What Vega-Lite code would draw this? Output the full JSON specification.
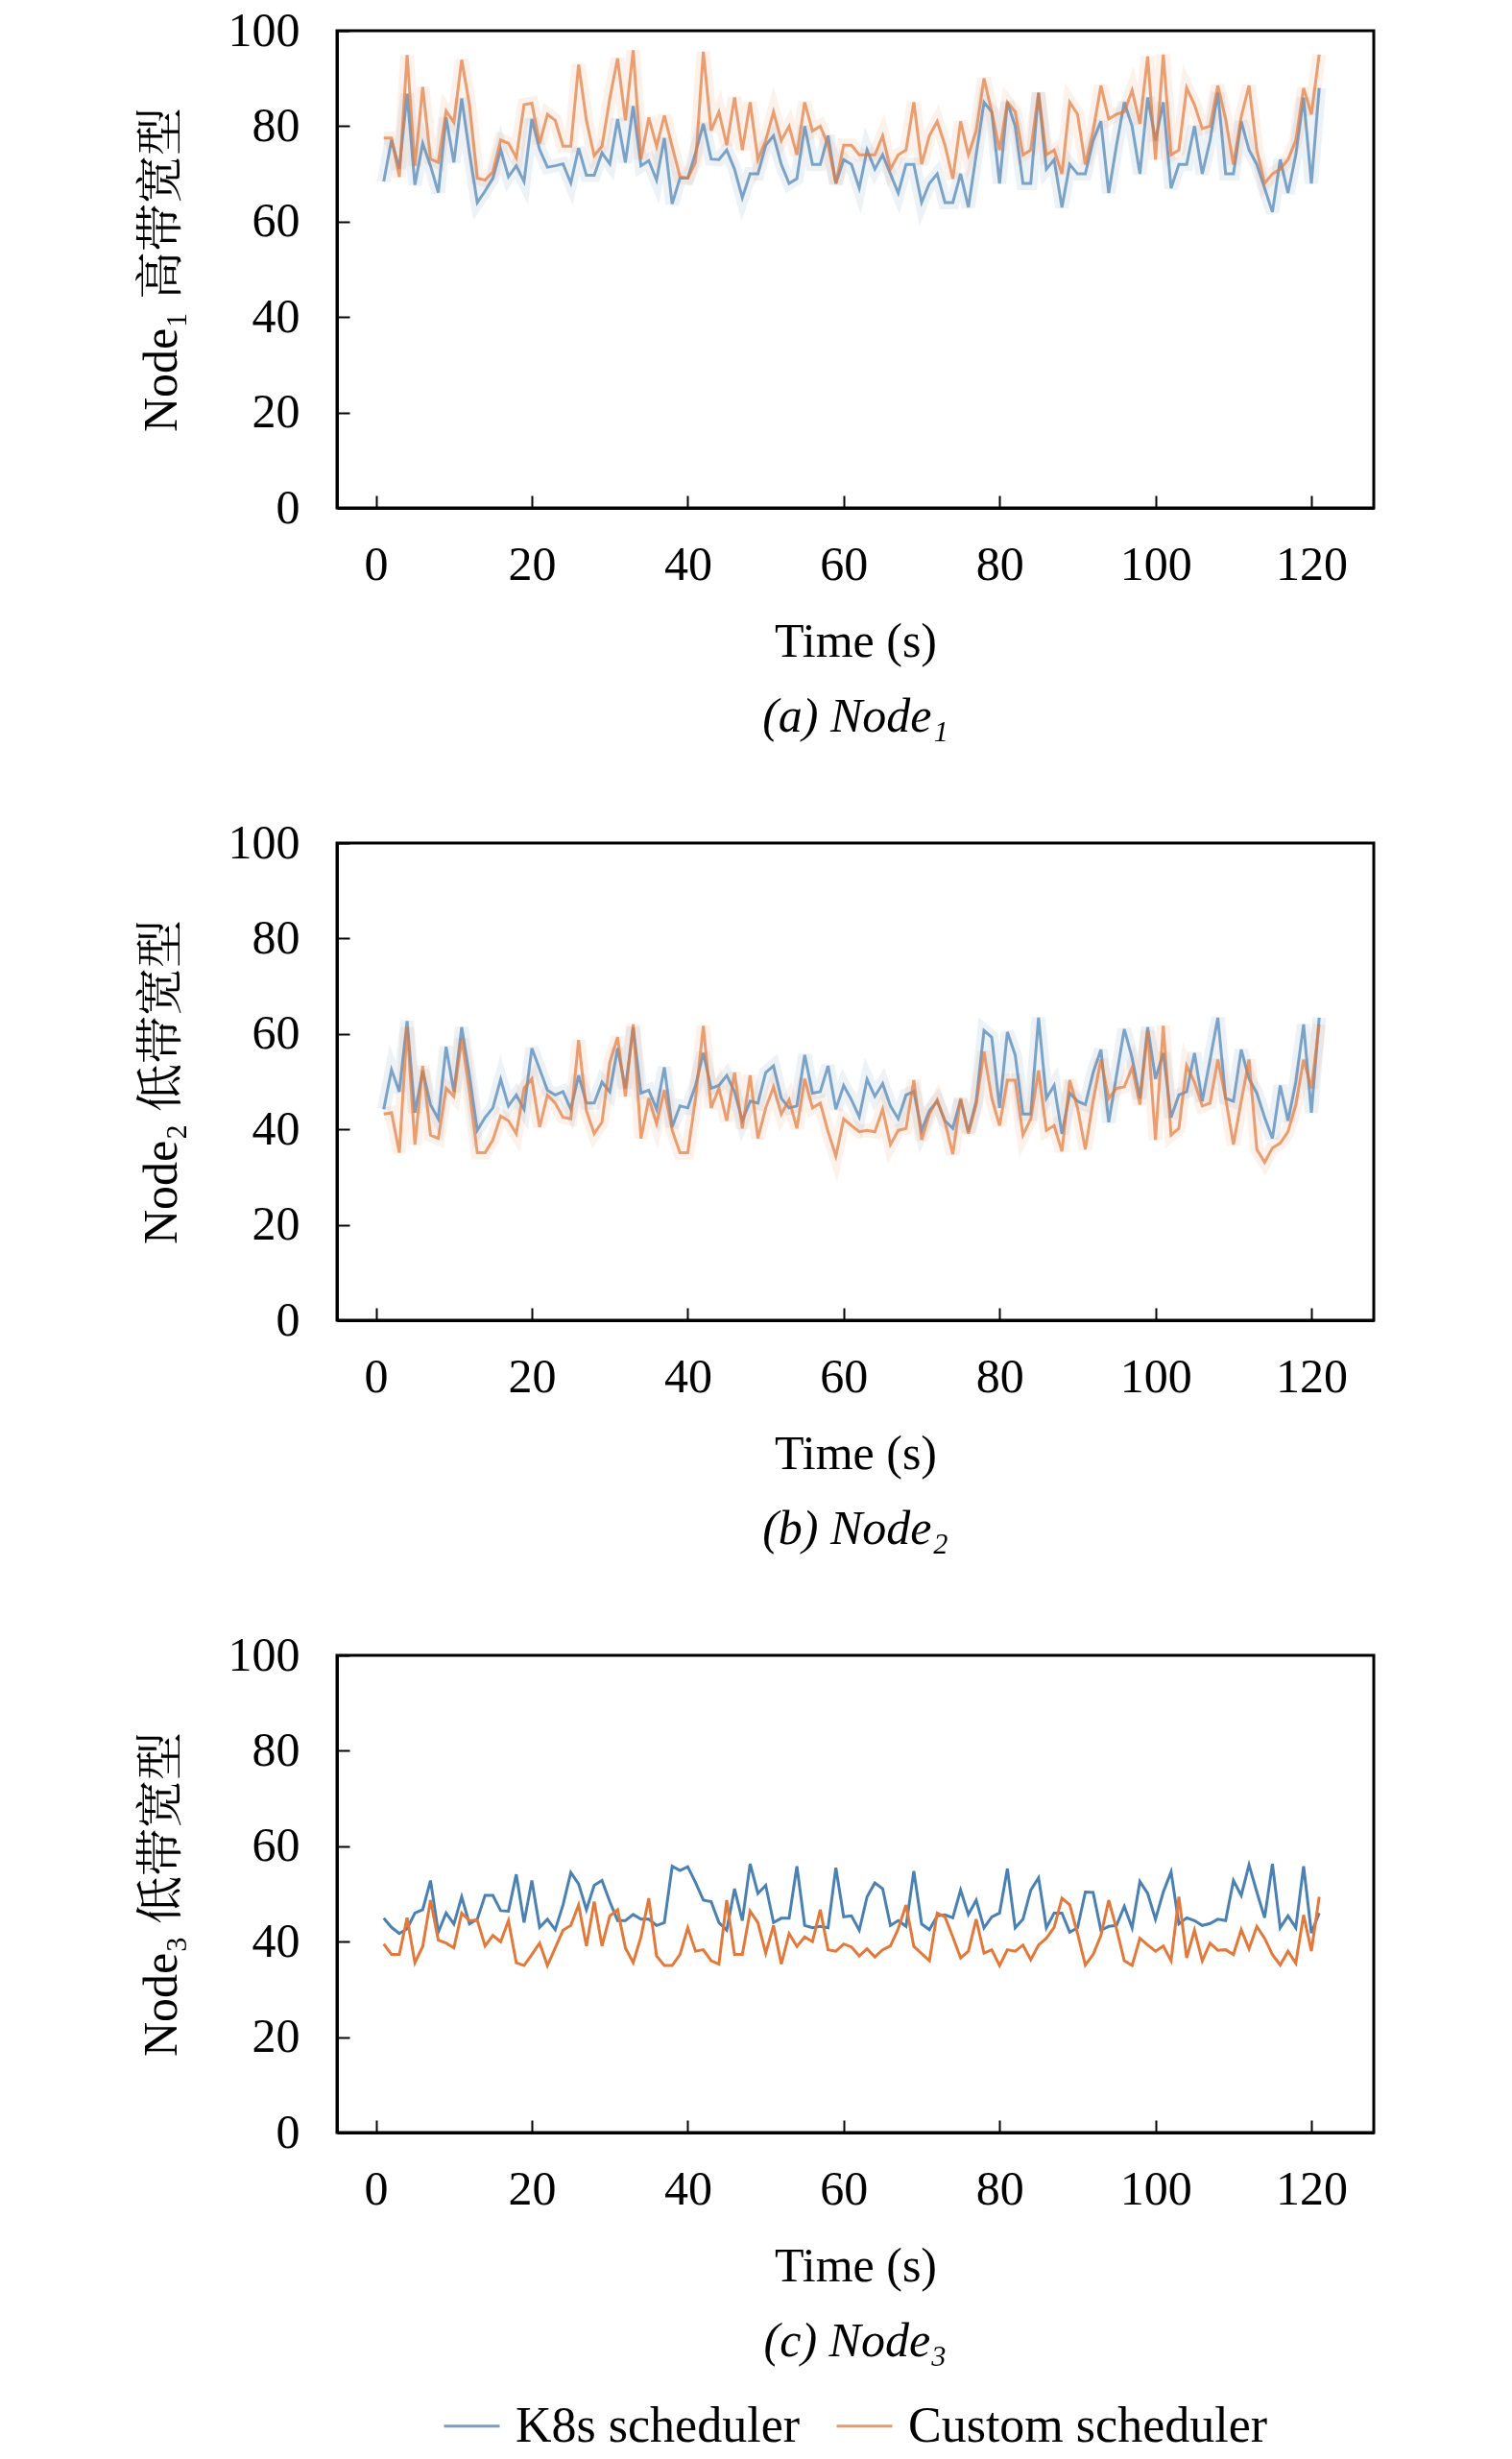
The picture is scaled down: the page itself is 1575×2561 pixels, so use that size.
{
  "$schema": "https://vega.github.io/schema/vega-lite/v6.json",
  "padding": {"left": 141, "top": 5, "right": 20, "bottom": 5},
  "background": "white",
  "spacing": 349,
  "bounds": "flush",
  "datasets": {
    "n1": [
      {"t":1,"k8s":68.4,"custom":77.5},{"t":2,"k8s":77.1,"custom":77.5},{"t":3,"k8s":71.1,"custom":69.4},{"t":4,"k8s":86.8,"custom":94.9},{"t":5,"k8s":67.7,"custom":71.7},
      {"t":6,"k8s":76.4,"custom":88.2},{"t":7,"k8s":71.7,"custom":73.1},{"t":8,"k8s":66.1,"custom":72.4},{"t":9,"k8s":81.8,"custom":83.2},{"t":10,"k8s":72.4,"custom":80.8},
      {"t":11,"k8s":85.8,"custom":93.9},{"t":12,"k8s":74.4,"custom":84.5},{"t":13,"k8s":64.0,"custom":69.1},{"t":14,"k8s":66.4,"custom":68.7},{"t":15,"k8s":69.1,"custom":70.4},
      {"t":16,"k8s":75.1,"custom":77.1},{"t":17,"k8s":69.4,"custom":76.4},{"t":18,"k8s":71.7,"custom":73.4},{"t":19,"k8s":68.4,"custom":84.5},{"t":20,"k8s":81.5,"custom":84.8},
      {"t":21,"k8s":75.1,"custom":76.4},{"t":22,"k8s":71.4,"custom":82.5},{"t":23,"k8s":71.7,"custom":81.2},{"t":24,"k8s":72.1,"custom":75.8},{"t":25,"k8s":68.1,"custom":75.8},
      {"t":26,"k8s":75.4,"custom":92.9},{"t":27,"k8s":69.7,"custom":81.2},{"t":28,"k8s":69.7,"custom":73.8},{"t":29,"k8s":74.4,"custom":75.8},{"t":30,"k8s":72.1,"custom":85.8},
      {"t":31,"k8s":81.5,"custom":94.2},{"t":32,"k8s":72.4,"custom":81.2},{"t":33,"k8s":84.2,"custom":95.9},{"t":34,"k8s":71.7,"custom":73.1},{"t":35,"k8s":72.8,"custom":81.8},
      {"t":36,"k8s":68.7,"custom":75.8},{"t":37,"k8s":77.5,"custom":82.2},{"t":38,"k8s":63.7,"custom":75.8},{"t":39,"k8s":69.1,"custom":69.4},{"t":40,"k8s":69.1,"custom":69.1},
      {"t":41,"k8s":74.4,"custom":72.4},{"t":42,"k8s":80.5,"custom":95.6},{"t":43,"k8s":73.1,"custom":79.1},{"t":44,"k8s":73,"custom":83},{"t":45,"k8s":75,"custom":76},
      {"t":46,"k8s":71,"custom":86},{"t":47,"k8s":65,"custom":75},{"t":48,"k8s":70,"custom":85},{"t":49,"k8s":70,"custom":73},{"t":50,"k8s":76,"custom":77},
      {"t":51,"k8s":78,"custom":83},{"t":52,"k8s":72,"custom":77},{"t":53,"k8s":68,"custom":80},{"t":54,"k8s":69,"custom":74},{"t":55,"k8s":80,"custom":85},
      {"t":56,"k8s":72,"custom":79},{"t":57,"k8s":72,"custom":80},{"t":58,"k8s":78,"custom":76},{"t":59,"k8s":68,"custom":68},{"t":60,"k8s":73,"custom":76},
      {"t":61,"k8s":72,"custom":76},{"t":62,"k8s":67,"custom":74},{"t":63,"k8s":75,"custom":74},{"t":64,"k8s":71,"custom":74},{"t":65,"k8s":74,"custom":78},
      {"t":66,"k8s":70,"custom":71},{"t":67,"k8s":66,"custom":74},{"t":68,"k8s":72,"custom":75},{"t":69,"k8s":72,"custom":85},{"t":70,"k8s":64,"custom":72},
      {"t":71,"k8s":68,"custom":78},{"t":72,"k8s":70,"custom":81},{"t":73,"k8s":64,"custom":76},{"t":74,"k8s":64,"custom":69},{"t":75,"k8s":70,"custom":81},
      {"t":76,"k8s":63,"custom":74},{"t":77,"k8s":74,"custom":79},{"t":78,"k8s":85,"custom":90},{"t":79,"k8s":83,"custom":83},{"t":80,"k8s":68,"custom":75},
      {"t":81,"k8s":85,"custom":85},{"t":82,"k8s":80,"custom":83},{"t":83,"k8s":68,"custom":74},{"t":84,"k8s":68,"custom":75},{"t":85,"k8s":87,"custom":87},
      {"t":86,"k8s":71,"custom":74},{"t":87,"k8s":73,"custom":75},{"t":88,"k8s":63,"custom":70},{"t":89,"k8s":72,"custom":85},{"t":90,"k8s":70,"custom":82.5},
      {"t":91,"k8s":70,"custom":72},{"t":92,"k8s":77,"custom":79},{"t":93,"k8s":81,"custom":88.5},{"t":94,"k8s":66,"custom":81.5},{"t":95,"k8s":76,"custom":82.5},
      {"t":96,"k8s":85,"custom":83},{"t":97,"k8s":80,"custom":87.5},{"t":98,"k8s":70,"custom":80.5},{"t":99,"k8s":86,"custom":94.6},{"t":100,"k8s":77,"custom":73},
      {"t":101,"k8s":85,"custom":95},{"t":102,"k8s":67,"custom":74},{"t":103,"k8s":72,"custom":75},{"t":104,"k8s":72,"custom":88},{"t":105,"k8s":80,"custom":84.5},
      {"t":106,"k8s":70,"custom":79.5},{"t":107,"k8s":77,"custom":80},{"t":108,"k8s":87,"custom":88.5},{"t":109,"k8s":70,"custom":81.5},{"t":110,"k8s":70,"custom":72},
      {"t":111,"k8s":81,"custom":82},{"t":112,"k8s":75,"custom":88.5},{"t":113,"k8s":72,"custom":75},{"t":114,"k8s":67,"custom":68},{"t":115,"k8s":62,"custom":70},
      {"t":116,"k8s":73,"custom":71},{"t":117,"k8s":66,"custom":73},{"t":118,"k8s":74,"custom":77},{"t":119,"k8s":86,"custom":88},{"t":120,"k8s":68,"custom":82.5},
      {"t":121,"k8s":88,"custom":95}
    ],
    "n2": [
      {"t":1,"k8s":44.2,"custom":43.2},{"t":2,"k8s":52.5,"custom":43.5},{"t":3,"k8s":47.9,"custom":35.1},{"t":4,"k8s":62.7,"custom":61.4},{"t":5,"k8s":43.5,"custom":36.8},
      {"t":6,"k8s":52.3,"custom":53.3},{"t":7,"k8s":45.2,"custom":38.8},{"t":8,"k8s":42.2,"custom":38.1},{"t":9,"k8s":57.3,"custom":48.6},{"t":10,"k8s":47.9,"custom":46.9},
      {"t":11,"k8s":61.4,"custom":59.0},{"t":12,"k8s":51.3,"custom":47.9},{"t":13,"k8s":39.8,"custom":35.1},{"t":14,"k8s":42.5,"custom":35.1},{"t":15,"k8s":44.5,"custom":37.8},
      {"t":16,"k8s":50.5,"custom":42.8},{"t":17,"k8s":44.9,"custom":41.8},{"t":18,"k8s":47.2,"custom":39.1},{"t":19,"k8s":44.2,"custom":48.6},{"t":20,"k8s":57.0,"custom":50.6},
      {"t":21,"k8s":52.6,"custom":40.5},{"t":22,"k8s":48.2,"custom":47.2},{"t":23,"k8s":47.2,"custom":45.5},{"t":24,"k8s":47.9,"custom":42.5},{"t":25,"k8s":44.2,"custom":42.2},
      {"t":26,"k8s":51.3,"custom":58.7},{"t":27,"k8s":45.5,"custom":43.9},{"t":28,"k8s":45.5,"custom":39.1},{"t":29,"k8s":49.9,"custom":41.5},{"t":30,"k8s":47.9,"custom":54.0},
      {"t":31,"k8s":57.0,"custom":59.3},{"t":32,"k8s":48.6,"custom":46.9},{"t":33,"k8s":61.4,"custom":62.0},{"t":34,"k8s":47.6,"custom":38.1},{"t":35,"k8s":48.2,"custom":46.5},
      {"t":36,"k8s":44.2,"custom":41.2},{"t":37,"k8s":53.0,"custom":48.2},{"t":38,"k8s":40.5,"custom":39.8},{"t":39,"k8s":44.9,"custom":35.1},{"t":40,"k8s":44.5,"custom":35.1},
      {"t":41,"k8s":49.2,"custom":46.5},{"t":42,"k8s":56.0,"custom":61.7},{"t":43,"k8s":48.6,"custom":44.5},{"t":44,"k8s":49.2,"custom":48.6},{"t":45,"k8s":51.3,"custom":41.8},
      {"t":46,"k8s":47.9,"custom":51.9},{"t":47,"k8s":41.8,"custom":40.2},{"t":48,"k8s":45.9,"custom":51.3},{"t":49,"k8s":45.5,"custom":38.1},{"t":50,"k8s":51.9,"custom":44.5},
      {"t":51,"k8s":53.3,"custom":48.9},{"t":52,"k8s":46.5,"custom":43.2},{"t":53,"k8s":44.5,"custom":46.2},{"t":54,"k8s":44.9,"custom":40.2},{"t":55,"k8s":55.6,"custom":50.6},
      {"t":56,"k8s":47.6,"custom":44.5},{"t":57,"k8s":47.9,"custom":45.5},{"t":58,"k8s":53.3,"custom":39.5},{"t":59,"k8s":44.2,"custom":34.4},{"t":60,"k8s":49.2,"custom":42.2},
      {"t":61,"k8s":46.2,"custom":40.8},{"t":62,"k8s":42.6,"custom":39.5},{"t":63,"k8s":50.5,"custom":39.8},{"t":64,"k8s":46.9,"custom":39.5},{"t":65,"k8s":49.6,"custom":44.2},
      {"t":66,"k8s":44.9,"custom":36.8},{"t":67,"k8s":42.2,"custom":39.8},{"t":68,"k8s":47.2,"custom":40.2},{"t":69,"k8s":47.9,"custom":50.3},{"t":70,"k8s":39.8,"custom":37.8},
      {"t":71,"k8s":43.9,"custom":43.2},{"t":72,"k8s":45.9,"custom":46.2},{"t":73,"k8s":41.8,"custom":41.5},{"t":74,"k8s":40.2,"custom":34.8},{"t":75,"k8s":46.2,"custom":46.5},
      {"t":76,"k8s":39.5,"custom":39.1},{"t":77,"k8s":45.9,"custom":45.2},{"t":78,"k8s":60.7,"custom":56.3},{"t":79,"k8s":59.3,"custom":46.5},{"t":80,"k8s":44.5,"custom":40.8},
      {"t":81,"k8s":60.4,"custom":50.3},{"t":82,"k8s":55.6,"custom":50.3},{"t":83,"k8s":43.2,"custom":38.8},{"t":84,"k8s":43.2,"custom":42.2},{"t":85,"k8s":63.4,"custom":52.3},
      {"t":86,"k8s":46.5,"custom":39.8},{"t":87,"k8s":49.2,"custom":40.8},{"t":88,"k8s":39.1,"custom":35.4},{"t":89,"k8s":47.6,"custom":50.3},{"t":90,"k8s":45.9,"custom":44.5},
      {"t":91,"k8s":45.2,"custom":35.8},{"t":92,"k8s":51.9,"custom":45.9},{"t":93,"k8s":56.7,"custom":54.6},{"t":94,"k8s":41.5,"custom":46.5},{"t":95,"k8s":51.3,"custom":48.6},
      {"t":96,"k8s":61.0,"custom":48.9},{"t":97,"k8s":55.0,"custom":53.0},{"t":98,"k8s":46.5,"custom":45.2},{"t":99,"k8s":61.4,"custom":60.7},{"t":100,"k8s":50.6,"custom":37.8},
      {"t":101,"k8s":56.0,"custom":61.7},{"t":102,"k8s":42.5,"custom":38.8},{"t":103,"k8s":47.2,"custom":40.2},{"t":104,"k8s":47.9,"custom":53.3},{"t":105,"k8s":56.0,"custom":49.9},
      {"t":106,"k8s":45.9,"custom":44.9},{"t":107,"k8s":54.6,"custom":45.5},{"t":108,"k8s":63.4,"custom":54.6},{"t":109,"k8s":46.5,"custom":46.5},{"t":110,"k8s":45.9,"custom":36.8},
      {"t":111,"k8s":56.7,"custom":45.9},{"t":112,"k8s":50.6,"custom":54.6},{"t":113,"k8s":47.6,"custom":35.8},{"t":114,"k8s":42.5,"custom":33.1},{"t":115,"k8s":38.1,"custom":36.1},
      {"t":116,"k8s":49.2,"custom":37.1},{"t":117,"k8s":41.8,"custom":39.5},{"t":118,"k8s":49.9,"custom":45.2},{"t":119,"k8s":62.0,"custom":54.6},{"t":120,"k8s":43.5,"custom":48.6},
      {"t":121,"k8s":63.4,"custom":62.0}
    ],
    "n3": [
      {"t":1,"k8s":44.9,"custom":39.5},{"t":2,"k8s":43.0,"custom":37.3},{"t":3,"k8s":41.7,"custom":37.3},{"t":4,"k8s":42.7,"custom":45.0},{"t":5,"k8s":46.0,"custom":35.6},
      {"t":6,"k8s":46.7,"custom":39.0},{"t":7,"k8s":52.8,"custom":48.7},{"t":8,"k8s":42.0,"custom":40.3},{"t":9,"k8s":46.0,"custom":39.7},{"t":10,"k8s":43.7,"custom":38.7},
      {"t":11,"k8s":49.4,"custom":46.0},{"t":12,"k8s":43.7,"custom":44.4},{"t":13,"k8s":44.7,"custom":44.5},{"t":14,"k8s":49.7,"custom":39.1},{"t":15,"k8s":49.7,"custom":41.3},
      {"t":16,"k8s":46.5,"custom":40.0},{"t":17,"k8s":46.4,"custom":44.4},{"t":18,"k8s":54.1,"custom":35.6},{"t":19,"k8s":44.0,"custom":35.0},{"t":20,"k8s":52.8,"custom":37.3},
      {"t":21,"k8s":43.0,"custom":39.7},{"t":22,"k8s":44.7,"custom":35.0},{"t":23,"k8s":42.5,"custom":38.7},{"t":24,"k8s":47.7,"custom":42.4},{"t":25,"k8s":54.5,"custom":43.4},
      {"t":26,"k8s":52.1,"custom":47.7},{"t":27,"k8s":46.7,"custom":39.1},{"t":28,"k8s":51.8,"custom":48.4},{"t":29,"k8s":52.8,"custom":39.1},{"t":30,"k8s":48.4,"custom":45.4},
      {"t":31,"k8s":44.4,"custom":46.7},{"t":32,"k8s":44.4,"custom":38.7},{"t":33,"k8s":45.7,"custom":35.6},{"t":34,"k8s":44.7,"custom":41.0},{"t":35,"k8s":44.7,"custom":49.1},
      {"t":36,"k8s":43.4,"custom":37.0},{"t":37,"k8s":44.0,"custom":35.0},{"t":38,"k8s":55.8,"custom":35.0},{"t":39,"k8s":54.9,"custom":37.3},{"t":40,"k8s":55.7,"custom":42.9},
      {"t":41,"k8s":52.4,"custom":38.0},{"t":42,"k8s":48.7,"custom":38.3},{"t":43,"k8s":48.4,"custom":36.0},{"t":44,"k8s":44.0,"custom":35.3},{"t":45,"k8s":42.4,"custom":48.7},
      {"t":46,"k8s":51.1,"custom":37.3},{"t":47,"k8s":44.4,"custom":37.3},{"t":48,"k8s":56.3,"custom":46.4},{"t":49,"k8s":50.1,"custom":44.0},{"t":50,"k8s":51.8,"custom":37.6},
      {"t":51,"k8s":44.0,"custom":43.4},{"t":52,"k8s":44.9,"custom":35.3},{"t":53,"k8s":44.9,"custom":41.7},{"t":54,"k8s":55.8,"custom":39.0},{"t":55,"k8s":43.4,"custom":41.0},
      {"t":56,"k8s":42.9,"custom":40.0},{"t":57,"k8s":43.2,"custom":46.7},{"t":58,"k8s":42.9,"custom":38.3},{"t":59,"k8s":55.5,"custom":38.0},{"t":60,"k8s":45.2,"custom":39.5},
      {"t":61,"k8s":45.4,"custom":38.9},{"t":62,"k8s":42.4,"custom":37.0},{"t":63,"k8s":49.4,"custom":38.5},{"t":64,"k8s":52.3,"custom":36.8},{"t":65,"k8s":51.1,"custom":38.3},
      {"t":66,"k8s":43.4,"custom":39.1},{"t":67,"k8s":44.4,"custom":42.7},{"t":68,"k8s":43.2,"custom":47.7},{"t":69,"k8s":54.8,"custom":39.0},{"t":70,"k8s":43.7,"custom":37.5},
      {"t":71,"k8s":42.5,"custom":36.0},{"t":72,"k8s":45.4,"custom":46.0},{"t":73,"k8s":45.6,"custom":45.2},{"t":74,"k8s":45.0,"custom":41.0},{"t":75,"k8s":50.8,"custom":36.6},
      {"t":76,"k8s":45.7,"custom":38.0},{"t":77,"k8s":48.7,"custom":44.7},{"t":78,"k8s":42.9,"custom":37.6},{"t":79,"k8s":45.2,"custom":38.3},{"t":80,"k8s":46.0,"custom":35.0},
      {"t":81,"k8s":55.3,"custom":38.3},{"t":82,"k8s":42.9,"custom":38.0},{"t":83,"k8s":44.7,"custom":39.3},{"t":84,"k8s":50.8,"custom":36.2},{"t":85,"k8s":53.4,"custom":39.3},
      {"t":86,"k8s":42.9,"custom":40.7},{"t":87,"k8s":46.0,"custom":43.0},{"t":88,"k8s":46.0,"custom":49.1},{"t":89,"k8s":42.0,"custom":47.7},{"t":90,"k8s":42.9,"custom":41.7},
      {"t":91,"k8s":50.4,"custom":35.1},{"t":92,"k8s":50.3,"custom":37.3},{"t":93,"k8s":42.4,"custom":41.3},{"t":94,"k8s":43.2,"custom":48.7},{"t":95,"k8s":43.4,"custom":42.7},
      {"t":96,"k8s":47.4,"custom":36.0},{"t":97,"k8s":42.9,"custom":35.0},{"t":98,"k8s":52.6,"custom":40.7},{"t":99,"k8s":50.1,"custom":39.3},{"t":100,"k8s":44.7,"custom":38.0},
      {"t":101,"k8s":50.4,"custom":39.1},{"t":102,"k8s":54.6,"custom":36.0},{"t":103,"k8s":43.7,"custom":49.4},{"t":104,"k8s":45.0,"custom":36.6},{"t":105,"k8s":44.4,"custom":42.4},
      {"t":106,"k8s":43.4,"custom":36.0},{"t":107,"k8s":43.8,"custom":39.7},{"t":108,"k8s":44.7,"custom":38.2},{"t":109,"k8s":44.4,"custom":38.3},{"t":110,"k8s":52.8,"custom":37.3},
      {"t":111,"k8s":49.7,"custom":42.5},{"t":112,"k8s":56.1,"custom":38.5},{"t":113,"k8s":50.4,"custom":43.2},{"t":114,"k8s":45.0,"custom":40.7},{"t":115,"k8s":56.3,"custom":37.3},
      {"t":116,"k8s":42.9,"custom":35.1},{"t":117,"k8s":45.4,"custom":38.0},{"t":118,"k8s":42.9,"custom":35.5},{"t":119,"k8s":55.8,"custom":45.6},{"t":120,"k8s":41.8,"custom":38.0},
      {"t":121,"k8s":46.0,"custom":49.4}
    ]
  },
  "vconcat": [
    {
      "data": {"name": "n1"},
      "transform": [{"fold": ["k8s", "custom"], "as": ["series", "value"]}],
      "width": 1080,
      "height": 497,
      "title": {"text": "(a) Node₁", "orient": "bottom"},
      "encoding": {
        "x": {"field": "t", "type": "quantitative", "scale": {"domain": [-5, 128], "nice": false, "zero": false}, "axis": {"values": [0, 20, 40, 60, 80, 100, 120], "title": "Time (s)"}},
        "y": {"field": "value", "type": "quantitative", "scale": {"domain": [0, 100], "nice": false}, "axis": {"values": [0, 20, 40, 60, 80, 100], "title": "Node₁ 高带宽型"}},
        "color": {"field": "series", "type": "nominal", "scale": {"domain": ["k8s", "custom"], "range": ["#4a80b2", "#e2793a"]},
          "legend": {"labelExpr": "datum.label == 'k8s' ? 'K8s scheduler' : 'Custom scheduler'", "labelLimit": 600}}
      },
      "layer": [
        {"mark": {"type": "line", "strokeWidth": 14, "opacity": 0.1}},
        {"mark": {"type": "line", "strokeWidth": 3, "opacity": 0.7}}
      ]
    },
    {
      "data": {"name": "n2"},
      "transform": [{"fold": ["k8s", "custom"], "as": ["series", "value"]}],
      "width": 1080,
      "height": 497,
      "title": {"text": "(b) Node₂", "orient": "bottom"},
      "encoding": {
        "x": {"field": "t", "type": "quantitative", "scale": {"domain": [-5, 128], "nice": false, "zero": false}, "axis": {"values": [0, 20, 40, 60, 80, 100, 120], "title": "Time (s)"}},
        "y": {"field": "value", "type": "quantitative", "scale": {"domain": [0, 100], "nice": false}, "axis": {"values": [0, 20, 40, 60, 80, 100], "title": "Node₂ 低带宽型"}},
        "color": {"field": "series", "type": "nominal", "scale": {"domain": ["k8s", "custom"], "range": ["#4a80b2", "#e2793a"]},
          "legend": {"labelExpr": "datum.label == 'k8s' ? 'K8s scheduler' : 'Custom scheduler'", "labelLimit": 600}}
      },
      "layer": [
        {"mark": {"type": "line", "strokeWidth": 14, "opacity": 0.1}},
        {"mark": {"type": "line", "strokeWidth": 3, "opacity": 0.7}}
      ]
    },
    {
      "data": {"name": "n3"},
      "transform": [{"fold": ["k8s", "custom"], "as": ["series", "value"]}],
      "width": 1080,
      "height": 497,
      "title": {"text": "(c) Node₃", "orient": "bottom"},
      "mark": {"type": "line", "strokeWidth": 3},
      "encoding": {
        "x": {"field": "t", "type": "quantitative", "scale": {"domain": [-5, 128], "nice": false, "zero": false}, "axis": {"values": [0, 20, 40, 60, 80, 100, 120], "title": "Time (s)"}},
        "y": {"field": "value", "type": "quantitative", "scale": {"domain": [0, 100], "nice": false}, "axis": {"values": [0, 20, 40, 60, 80, 100], "title": "Node₃ 低带宽型"}},
        "color": {"field": "series", "type": "nominal", "scale": {"domain": ["k8s", "custom"], "range": ["#4a80b2", "#e2793a"]},
          "legend": {"labelExpr": "datum.label == 'k8s' ? 'K8s scheduler' : 'Custom scheduler'", "labelLimit": 600}}
      }
    }
  ],
  "config": {
    "font": "Liberation Serif",
    "view": {"stroke": "black", "strokeWidth": 3},
    "axis": {
      "grid": false,
      "domainColor": "black", "domainWidth": 3,
      "tickColor": "black", "tickWidth": 2, "tickSize": -13,
      "labelFont": "Liberation Serif", "labelFontSize": 50, "labelColor": "black",
      "titleFont": "Liberation Serif, Noto Serif CJK SC, Noto Sans CJK SC", "titleFontSize": 50, "titleFontWeight": "normal", "titleColor": "black"
    },
    "axisX": {"labelPadding": 47, "titlePadding": 30},
    "axisY": {"labelPadding": 52, "titlePadding": 44},
    "legend": {
      "title": null, "orient": "none", "direction": "horizontal",
      "legendX": 110, "legendY": 2464,
      "symbolType": "stroke", "symbolSize": 3364, "symbolStrokeWidth": 3, "symbolOpacity": 0.75,
      "labelFont": "Liberation Serif", "labelFontSize": 52, "labelColor": "black",
      "labelOffset": 15, "columnPadding": 31, "padding": 0
    },
    "title": {"font": "Liberation Serif", "fontSize": 50, "fontWeight": "normal", "fontStyle": "italic", "color": "black", "offset": 29}
  }
}
